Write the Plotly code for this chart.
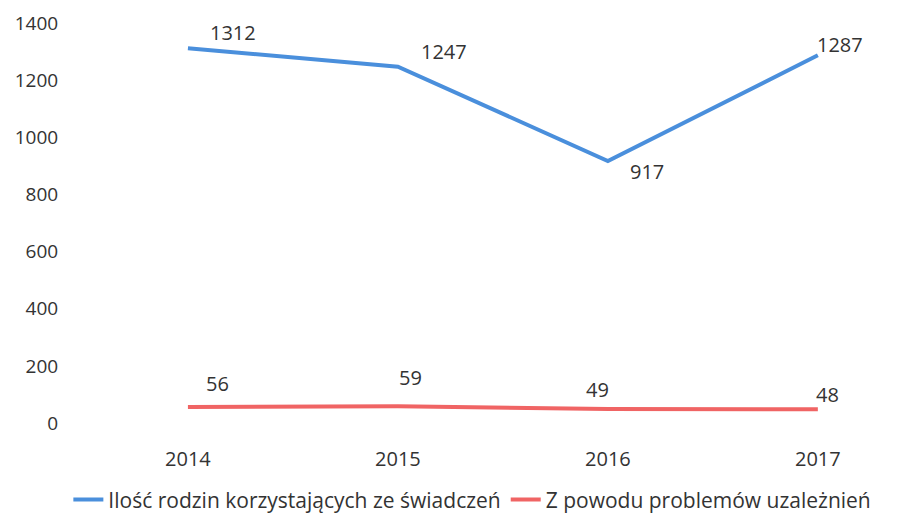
import plotly.graph_objects as go

years = [2014, 2015, 2016, 2017]
rodziny = [1312, 1247, 917, 1287]
uzaleznienia = [56, 59, 49, 48]
y_ticks = [0, 200, 400, 600, 800, 1000, 1200, 1400]
name_a = "Ilość rodzin korzystających ze świadczeń"
name_b = "Z powodu problemów uzależnień"

blue = "#4a8fdc"
red = "#f06464"
txt = "#333333"
font_family = "Open Sans, Lato, sans-serif"

fig = go.Figure()
fig.add_trace(go.Scatter(x=years, y=rodziny, mode="lines", name=name_a,
                         line=dict(color=blue, width=4), cliponaxis=False))
fig.add_trace(go.Scatter(x=years, y=uzaleznienia, mode="lines", name=name_b,
                         line=dict(color=red, width=4), cliponaxis=False))

# label offsets (pixels) for data labels
off_a = [(45, 16), (46, 15), (39, -10), (22, 11)]
off_b = [(30, 24), (13, 29), (-10, 20), (10, 15)]
for series, offs in ((rodziny, off_a), (uzaleznienia, off_b)):
    for xv, yv, (dx, dy) in zip(years, series, offs):
        fig.add_annotation(x=xv, y=yv, text=str(yv), showarrow=False,
                           xshift=dx, yshift=dy,
                           font=dict(size=20, color=txt, family=font_family))

# page body adds an 8px offset; figure is sized/margined to compensate
fig.update_layout(
    width=893, height=505,
    margin=dict(l=72, r=0, t=15, b=90, autoexpand=False),
    paper_bgcolor="white", plot_bgcolor="white",
    font=dict(family=font_family, color=txt, size=20),
    showlegend=True,
    legend=dict(orientation="h", xref="container", yref="container",
                x=0.52, xanchor="center", y=0.026, yanchor="middle",
                font=dict(size=21, color=txt), tracegroupgap=0),
    xaxis=dict(range=[2013.486, 2017.396], tickvals=years, ticktext=[str(y) for y in years],
               showgrid=False, zeroline=False, showline=False, automargin=False,
               ticks="outside", ticklen=18, tickcolor="rgba(0,0,0,0)",
               tickfont=dict(size=20, color=txt)),
    yaxis=dict(range=[0, 1400], tickvals=y_ticks, showgrid=False, zeroline=False,
               showline=False, automargin=False, ticks="outside", ticklen=17,
               tickcolor="rgba(0,0,0,0)", tickfont=dict(size=19, color=txt)),
)

fig.write_html("out.html")
